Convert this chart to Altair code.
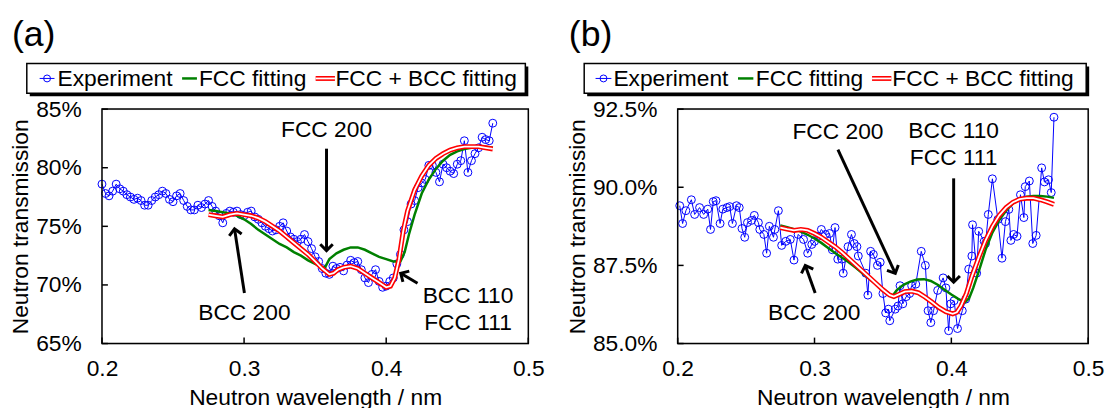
import altair as alt
import pandas as pd
import math

FONT = "Liberation Sans"
FS = 23

# ---------------- Panel (a) data ----------------
a_exp_x = [0.2000, 0.2025, 0.2050, 0.2075, 0.2100, 0.2125, 0.2150, 0.2175, 0.2200, 0.2225,
           0.2250, 0.2275, 0.2300, 0.2325, 0.2350, 0.2375, 0.2400, 0.2425, 0.2450, 0.2475,
           0.2500, 0.2525, 0.2550, 0.2575, 0.2600, 0.2625, 0.2650, 0.2675, 0.2700, 0.2725,
           0.2750, 0.2775, 0.2800, 0.2825, 0.2850, 0.2875, 0.2900, 0.2925, 0.2950, 0.2975,
           0.3000, 0.3025, 0.3050, 0.3075, 0.3100, 0.3125, 0.3150, 0.3175, 0.3200, 0.3225,
           0.3250, 0.3275, 0.3300, 0.3325, 0.3350, 0.3375, 0.3400, 0.3425, 0.3450, 0.3475,
           0.3500, 0.3525, 0.3550, 0.3575, 0.3600, 0.3625, 0.3650, 0.3675, 0.3700, 0.3725,
           0.3750, 0.3775, 0.3800, 0.3825, 0.3850, 0.3875, 0.3900, 0.3925, 0.3950, 0.3975,
           0.4000, 0.4025, 0.4050, 0.4075, 0.4100, 0.4125, 0.4150, 0.4175, 0.4200, 0.4225,
           0.4250, 0.4275, 0.4300, 0.4325, 0.4350, 0.4375, 0.4400, 0.4425, 0.4450, 0.4475,
           0.4500, 0.4525, 0.4550, 0.4575, 0.4600, 0.4625, 0.4650, 0.4675, 0.4700, 0.4725,
           0.4750]
a_exp_y = [78.6, 77.8, 77.6, 78.0, 78.6, 78.2, 78.0, 77.7, 77.5, 77.3,
           77.4, 77.2, 76.8, 76.8, 77.2, 77.5, 77.7, 78.0, 77.8, 77.3,
           77.1, 77.6, 77.8, 77.2, 76.7, 76.4, 76.4, 76.8, 76.6, 76.9,
           77.2, 76.7, 76.3, 75.9, 75.3, 76.1, 76.3, 76.2, 76.3, 76.0,
           75.9, 76.2, 76.3, 75.8, 75.6, 75.3, 75.0, 74.8, 74.6, 74.7,
           75.0, 75.3, 74.6, 74.1, 73.9, 73.7, 73.9, 74.3, 73.7, 73.1,
           72.4, 72.0, 71.4, 71.0, 70.9, 71.6, 71.4, 71.5, 71.2, 71.7,
           72.1, 71.9, 72.0, 71.3, 70.6, 70.2, 70.9, 71.3, 70.3, 69.8,
           69.9, 70.3, 70.6, 71.8, 72.6, 74.7, 75.4, 76.9, 77.2, 78.3,
           78.7, 79.0, 80.2, 80.2, 79.6, 78.8, 80.3, 80.0, 79.7, 79.5,
           80.3, 80.6, 82.3, 79.6, 80.6, 81.2, 81.7, 82.6, 82.4, 82.3,
           83.8]

a_fcc_x = [0.275, 0.280, 0.285, 0.290, 0.295, 0.300, 0.305, 0.310, 0.315, 0.320,
           0.325, 0.330, 0.335, 0.340, 0.345, 0.350, 0.355, 0.357, 0.360, 0.365,
           0.370, 0.375, 0.380, 0.385, 0.390, 0.395, 0.400, 0.405, 0.410, 0.413,
           0.416, 0.420, 0.425, 0.430, 0.435, 0.440, 0.445, 0.450, 0.455, 0.460,
           0.465, 0.470, 0.475]
a_fcc_y = [76.4, 76.3, 76.2, 76.1, 75.9, 75.6, 75.2, 74.7, 74.3, 73.9,
           73.5, 73.2, 72.8, 72.5, 72.1, 71.8, 71.5, 71.5, 72.2, 72.7,
           73.0, 73.2, 73.2, 73.0, 72.7, 72.4, 72.2, 72.0, 72.0, 72.8,
           74.3, 76.0, 77.8, 79.0, 79.9, 80.6, 81.1, 81.4, 81.6, 81.7,
           81.8, 81.8, 81.7]

a_both_x = [0.275, 0.280, 0.285, 0.290, 0.295, 0.300, 0.305, 0.310, 0.315, 0.320,
            0.325, 0.330, 0.335, 0.340, 0.345, 0.350, 0.355, 0.360, 0.363, 0.366,
            0.370, 0.375, 0.380, 0.385, 0.390, 0.395, 0.400, 0.403, 0.406, 0.409,
            0.412, 0.415, 0.420, 0.425, 0.430, 0.435, 0.440, 0.445, 0.450, 0.455,
            0.460, 0.465, 0.470, 0.475]
a_both_y = [76.0, 75.9, 75.8, 76.0, 76.1, 76.0, 75.9, 75.7, 75.4, 75.0,
            74.6, 74.1, 73.6, 73.1, 72.6, 72.0, 71.4, 70.9, 71.0, 71.3,
            71.5, 71.6, 71.4, 71.0, 70.6, 70.2, 69.8, 69.9, 70.6, 72.2,
            74.6, 76.3, 78.1, 79.3, 80.2, 80.8, 81.2, 81.5, 81.7, 81.8,
            81.8, 81.8, 81.7, 81.6]

# ---------------- Panel (b) data ----------------
b_exp_x = [0.2015, 0.2036, 0.2060, 0.2100, 0.2124, 0.2160, 0.2190, 0.2220, 0.2240, 0.2260,
           0.2280, 0.2310, 0.2330, 0.2360, 0.2380, 0.2400, 0.2430, 0.2450, 0.2470, 0.2490,
           0.2510, 0.2540, 0.2560, 0.2590, 0.2600, 0.2630, 0.2650, 0.2670, 0.2700, 0.2710,
           0.2736, 0.2760, 0.2790, 0.2823, 0.2850, 0.2880, 0.2920, 0.2950, 0.2980, 0.3000,
           0.3025, 0.3050, 0.3080, 0.3110, 0.3130, 0.3150, 0.3170, 0.3200, 0.3210, 0.3245,
           0.3270, 0.3290, 0.3310, 0.3320, 0.3375, 0.3390, 0.3410, 0.3430, 0.3460, 0.3480,
           0.3500, 0.3520, 0.3540, 0.3550, 0.3590, 0.3610, 0.3625, 0.3645, 0.3670, 0.3695,
           0.3710, 0.3740, 0.3780, 0.3810, 0.3830, 0.3850, 0.3870, 0.3900, 0.3940, 0.3960,
           0.3980, 0.3995, 0.4020, 0.4045, 0.4080, 0.4105, 0.4127, 0.4150, 0.4155, 0.4185,
           0.4200, 0.4240, 0.4250, 0.4270, 0.4300, 0.4340, 0.4370, 0.4395, 0.4420, 0.4435,
           0.4455, 0.4480, 0.4505, 0.4530, 0.4540, 0.4570, 0.4595, 0.4620, 0.4660, 0.4680,
           0.4710, 0.4730, 0.4750]
b_exp_y = [89.41, 88.84, 89.25, 89.60, 89.13, 89.35, 89.13, 89.30, 88.65, 89.54,
           89.57, 88.84, 89.30, 89.35, 89.38, 88.84, 89.41, 89.35, 88.68, 88.40,
           88.87, 88.94, 89.10, 88.87, 88.65, 88.49, 87.89, 88.75, 88.40, 88.65,
           89.25, 88.14, 88.27, 88.33, 87.67, 88.49, 88.33, 87.89, 88.17, 88.27,
           88.43, 88.65, 88.49, 88.52, 88.00, 88.71, 87.70, 87.70, 87.25, 88.10,
           88.49, 88.20, 88.10, 87.80, 87.25, 86.55, 87.95, 87.85, 87.50, 87.60,
           86.60, 85.98, 86.10, 85.73, 86.10, 86.20, 86.85, 86.27, 86.50, 86.60,
           86.85, 86.90, 87.95, 87.50, 86.05, 85.67, 86.05, 86.70, 87.10, 86.78,
           85.41, 86.27, 86.37, 85.48, 86.05, 86.42, 87.38, 87.80, 88.80, 87.25,
           88.59, 88.27, 88.20, 89.13, 90.27, 88.97, 87.73, 88.90, 89.29, 88.30,
           88.49, 88.43, 89.76, 89.03, 90.02, 90.20, 88.20, 88.46, 90.62, 90.17,
           90.24, 89.83, 92.24]

b_fcc_x = [0.275, 0.280, 0.285, 0.290, 0.295, 0.300, 0.305, 0.310, 0.315, 0.320,
           0.325, 0.330, 0.335, 0.340, 0.345, 0.350, 0.355, 0.357, 0.360, 0.365,
           0.370, 0.375, 0.380, 0.385, 0.390, 0.395, 0.400, 0.405, 0.410, 0.413,
           0.416, 0.420, 0.425, 0.430, 0.435, 0.440, 0.445, 0.450, 0.455, 0.460,
           0.465, 0.470, 0.475]
b_fcc_y = [88.78, 88.72, 88.66, 88.58, 88.48, 88.36, 88.22, 88.06, 87.90, 87.75,
           87.60, 87.43, 87.25, 87.07, 86.90, 86.75, 86.58, 86.52, 86.70, 86.88,
           86.98, 87.05, 87.06, 87.00, 86.88, 86.72, 86.57, 86.43, 86.32, 86.45,
           86.78, 87.30, 88.00, 88.55, 88.95, 89.25, 89.48, 89.62, 89.70, 89.72,
           89.72, 89.70, 89.66]

b_both_x = [0.275, 0.280, 0.285, 0.290, 0.295, 0.300, 0.305, 0.310, 0.315, 0.320,
            0.325, 0.330, 0.335, 0.340, 0.345, 0.350, 0.355, 0.358, 0.362, 0.366,
            0.371, 0.376, 0.381, 0.386, 0.391, 0.396, 0.401, 0.404, 0.407, 0.411,
            0.415, 0.420, 0.425, 0.430, 0.435, 0.440, 0.445, 0.450, 0.455, 0.460,
            0.465, 0.470, 0.475]
b_both_y = [88.71, 88.66, 88.62, 88.65, 88.62, 88.52, 88.40, 88.25, 88.10, 87.92,
            87.72, 87.52, 87.32, 87.12, 86.92, 86.72, 86.55, 86.50, 86.58, 86.66,
            86.68, 86.62, 86.48, 86.32, 86.15, 86.02, 85.95, 86.00, 86.20, 86.60,
            87.15, 87.75, 88.30, 88.75, 89.10, 89.35, 89.52, 89.62, 89.65, 89.65,
            89.60, 89.53, 89.45]

x_ticks = [0.2, 0.3, 0.4, 0.5]
a_y_ticks = [65, 70, 75, 80, 85]
b_y_ticks = [85, 87.5, 90, 92.5]

legend_labels = ["Experiment", "FCC fitting", "FCC + BCC fitting"]

BLUE = "#0000FF"
GREEN = "#008000"
RED = "#FF0000"

one = pd.DataFrame({"d": [0]})


def txt(x, y, s, size=FS, align="center"):
    return alt.Chart(one).mark_text(
        text=s, font=FONT, fontSize=size, align=align, baseline="middle", color="black"
    ).encode(x=alt.value(x), y=alt.value(y))


def rule(x1, y1, x2, y2, color="black", sw=3):
    return alt.Chart(one).mark_rule(color=color, strokeWidth=sw).encode(
        x=alt.value(x1), y=alt.value(y1), x2=alt.value(x2), y2=alt.value(y2))


def arrow(x1, y1, x2, y2):
    ang = math.degrees(math.atan2(x2 - x1, -(y2 - y1))) % 360
    head = alt.Chart(one).mark_point(
        shape="M -1 1 L 0 0 L 1 1", filled=False, stroke="black", strokeWidth=3,
        size=160, angle=ang, opacity=1
    ).encode(x=alt.value(x2), y=alt.value(y2))
    return [rule(x1, y1, x2, y2), head]


def panel(exp_x, exp_y, fcc_x, fcc_y, both_x, both_y, ydom, yticks, ylab_expr,
          width, height, tag, lg, annotations):
    xs = alt.Scale(domain=[0.2, 0.5], nice=False, zero=False)
    ys = alt.Scale(domain=ydom, nice=False, zero=False)
    xaxis = alt.Axis(values=x_ticks, format=".1f", title="Neutron wavelength / nm",
                     ticks=False, domain=False, grid=False,
                     labelFont=FONT, labelFontSize=FS, labelColor="black", labelPadding=14,
                     labelFlush=False,
                     titleFont=FONT, titleFontSize=FS, titleFontWeight="normal",
                     titleColor="black", titlePadding=7)
    yaxis = alt.Axis(values=yticks, labelExpr=ylab_expr, title="Neutron transmission",
                     ticks=False, domain=False, grid=False,
                     labelFont=FONT, labelFontSize=FS, labelColor="black", labelPadding=21,
                     labelFlush=False,
                     titleFont=FONT, titleFontSize=FS, titleFontWeight="normal",
                     titleColor="black", titlePadding=3)
    X = alt.X("x:Q", scale=xs, axis=xaxis)
    Y = alt.Y("y:Q", scale=ys, axis=yaxis)

    exp_df = pd.DataFrame({"x": exp_x, "y": exp_y})
    fcc_df = pd.DataFrame({"x": fcc_x, "y": fcc_y})
    both_df = pd.DataFrame({"x": both_x, "y": both_y})

    layers = []
    layers.append(alt.Chart(exp_df).mark_line(color=BLUE, strokeWidth=1).encode(x=X, y=Y))
    layers.append(alt.Chart(exp_df).mark_point(shape="circle", filled=False, color=BLUE,
                                               size=64, strokeWidth=1, opacity=1).encode(x=X, y=Y))
    layers.append(alt.Chart(fcc_df).mark_line(color=GREEN, strokeWidth=2.5).encode(x=X, y=Y))
    layers.append(alt.Chart(both_df).mark_line(color=RED, strokeWidth=5).encode(x=X, y=Y))
    layers.append(alt.Chart(both_df).mark_line(color="white", strokeWidth=1.8).encode(x=X, y=Y))

    # frame
    layers.append(alt.Chart(one).mark_rect(fill=None, stroke="black", strokeWidth=1.5).encode(
        x=alt.value(0), x2=alt.value(width), y=alt.value(0), y2=alt.value(height)))

    # inward ticks
    layers.append(alt.Chart(pd.DataFrame({"x": x_ticks})).mark_rule(color="black", strokeWidth=1.5).encode(
        x=X, y=alt.value(height), y2=alt.value(height - 6)))
    layers.append(alt.Chart(pd.DataFrame({"y": yticks})).mark_rule(color="black", strokeWidth=1.5).encode(
        y=Y, x=alt.value(0), x2=alt.value(6)))

    # panel tag
    layers.append(txt(tag[1], tag[2], tag[0], size=36, align="left"))

    # legend box with shadow
    L, R, T, B = lg["box"]
    layers.append(alt.Chart(one).mark_rect(color="black").encode(
        x=alt.value(L + 3), x2=alt.value(R + 3), y=alt.value(T + 3), y2=alt.value(B + 3)))
    layers.append(alt.Chart(one).mark_rect(fill="white", stroke="black", strokeWidth=1.5).encode(
        x=alt.value(L), x2=alt.value(R), y=alt.value(T), y2=alt.value(B)))
    cy = (T + B) / 2
    e1, e2 = lg["exp"]
    layers.append(rule(e1, cy, e2, cy, color=BLUE, sw=1))
    layers.append(alt.Chart(one).mark_point(shape="circle", filled=False, color=BLUE, size=49,
                                            strokeWidth=1, opacity=1).encode(
        x=alt.value((e1 + e2) / 2), y=alt.value(cy)))
    g1, g2 = lg["fcc"]
    layers.append(rule(g1, cy, g2, cy, color=GREEN, sw=2.5))
    r1, r2 = lg["both"]
    layers.append(rule(r1, cy, r2, cy, color=RED, sw=5))
    layers.append(rule(r1, cy, r2, cy, color="white", sw=1.8))
    for xpos, lab in zip(lg["text"], legend_labels):
        layers.append(txt(xpos, cy + 1, lab, align="left"))

    # annotations
    for ann in annotations:
        for (tx, ty, s) in ann["texts"]:
            layers.append(txt(tx, ty, s))
        layers.extend(arrow(*ann["arrow"]))

    return alt.layer(*layers).properties(width=width, height=height)


pa = panel(a_exp_x, a_exp_y, a_fcc_x, a_fcc_y, a_both_x, a_both_y,
           [65, 85], a_y_ticks, "datum.value + '%'", 431, 237,
           ("(a)", -91, -75),
           {"box": (-76, 428, -46, -16), "exp": (-63, -48), "fcc": (81, 96),
            "both": (216, 235.5), "text": (-45, 98, 236)},
           [
               {"texts": [(227, 21, "FCC 200")], "arrow": (227, 40, 227, 143)},
               {"texts": [(144, 206, "BCC 200")], "arrow": (144, 186, 134, 121)},
               {"texts": [(370, 189, "BCC 110"), (370, 216, "FCC 111")],
                "arrow": (319, 176, 302, 166)},
           ])

pb = panel(b_exp_x, b_exp_y, b_fcc_x, b_fcc_y, b_both_x, b_both_y,
           [85, 92.5], b_y_ticks, "format(datum.value, '.1f') + '%'", 415, 237,
           ("(b)", -110, -75),
           {"box": (-94.5, 413, -46, -16), "exp": (-83, -67), "fcc": (61, 76.5),
            "both": (196.5, 216), "text": (-65, 79, 217)},
           [
               {"texts": [(162, 23, "FCC 200")], "arrow": (162, 41, 220, 166)},
               {"texts": [(279, 22, "BCC 110"), (279, 49, "FCC 111")],
                "arrow": (279, 70, 279, 175)},
               {"texts": [(138, 206, "BCC 200")], "arrow": (139, 186, 129, 158)},
           ])

chart = alt.hconcat(pa, pb, spacing=21).properties(
    padding={"left": 1, "top": 6, "right": 0, "bottom": 0}
).configure_view(stroke=None).configure(background="white")

chart.save("out.html", embed_options={"renderer": "svg", "actions": False})
